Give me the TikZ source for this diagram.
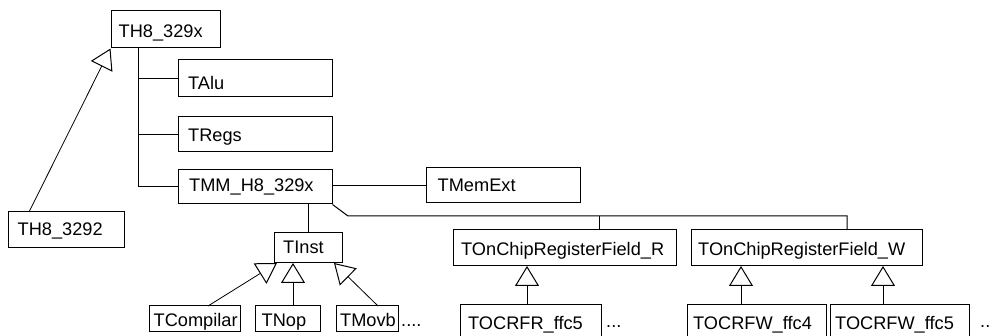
\documentclass[tikz,border=0pt]{standalone}
\usepackage{fontspec}
\setmainfont{Liberation Sans}
\usetikzlibrary{arrows.meta,fit}
\tikzset{
  box/.style={draw=black, line width=1pt, inner sep=0pt, fill=white},
  lbl/.style={inner sep=0pt, anchor=base west, font=\fontsize{18.2}{20}\selectfont},
  conn/.style={draw=black, line width=1pt},
  inh/.style={conn, -{Triangle[open, length=20pt, width=24pt, line width=1pt]}},
}
\newcommand\umlbox[8]{%
  \node[box, fit={(#2,#3) (#4,#5)}] (#1) {};
  \node[lbl] (#1-t) at (#6,#7) {#8};
}
\begin{document}
\begin{tikzpicture}[x=1pt,y=-1pt]
\useasboundingbox (0,0) rectangle (991,336);
\clip (0,0) rectangle (991,336);
\fill[white] (0,0) rectangle (991,336);
% boxes
\umlbox{top}{111}{11}{220}{48}{118.5}{37.5}{TH8\_329x}
\umlbox{alu}{178}{60}{332}{97}{188}{89.5}{TAlu}
\umlbox{regs}{178}{117}{332}{152}{188}{142}{TRegs}
\umlbox{tmm}{178}{170}{332}{204}{189}{192}{TMM\_H8\_329x}
\umlbox{sub}{8}{212}{124}{248}{17.5}{236}{TH8\_3292}
\umlbox{mem}{426}{168}{580}{203}{437.5}{192}{TMemExt}
\umlbox{ocr}{453}{230}{676}{266}{461}{256}{TOnChipRegisterField\_R}
\umlbox{ocw}{691}{230}{922}{266}{698}{256}{TOnChipRegisterField\_W}
\umlbox{inst}{274}{233}{342}{263}{283}{253.5}{TInst}
\umlbox{comp}{149}{306}{240}{332}{153.5}{327}{TCompilar}
\umlbox{nop}{255}{306}{320}{332}{261.5}{327}{TNop}
\umlbox{movb}{336}{306}{398}{332}{340}{327}{TMovb}
\umlbox{rf}{460}{305}{601}{345}{468}{330}{TOCRFR\_ffc5}
\umlbox{wf4}{687}{305}{826}{345}{693}{330}{TOCRFW\_ffc4}
\umlbox{wf5}{830}{305}{969}{345}{835}{330}{TOCRFW\_ffc5}
\node[lbl] (d1) at (401,327) {....};
\node[lbl] (d2) at (606,328) {...};
\node[lbl] (d3) at (980,328) {..};
% composition tree
\coordinate (trunk) at (138,48);
\draw[conn] (trunk) -- (trunk |- tmm.west) -- (tmm.west);
\draw[conn] (trunk |- alu.west) -- (alu.west);
\draw[conn] (trunk |- regs.west) -- (regs.west);
\draw[conn] (tmm.east |- mem.west) -- (mem.west);
\coordinate (bend) at (348,216);
\coordinate (jr) at (599,216);
\coordinate (jw) at (847,216);
\draw[conn] (tmm.south east) -- (bend) -- (jw) -- (jw |- ocw.north);
\draw[conn] (jr) -- (jr |- ocr.north);
\draw[conn] (inst.north) -- (inst.north |- tmm.south);
% inheritance
\draw[inh, line width=0.8pt] (29,212) -- (top.south west);
\draw[inh, line width=0.8pt] (208,306) -- (277,263);
\draw[inh] (293,306) -- (293,263);
\draw[inh, line width=0.8pt] (378,306) -- (334,263);
\draw[inh] (527,305) -- (527,266);
\draw[inh] (741,305) -- (741,266);
\draw[inh] (883,305) -- (883,266);
\end{tikzpicture}
\end{document}
